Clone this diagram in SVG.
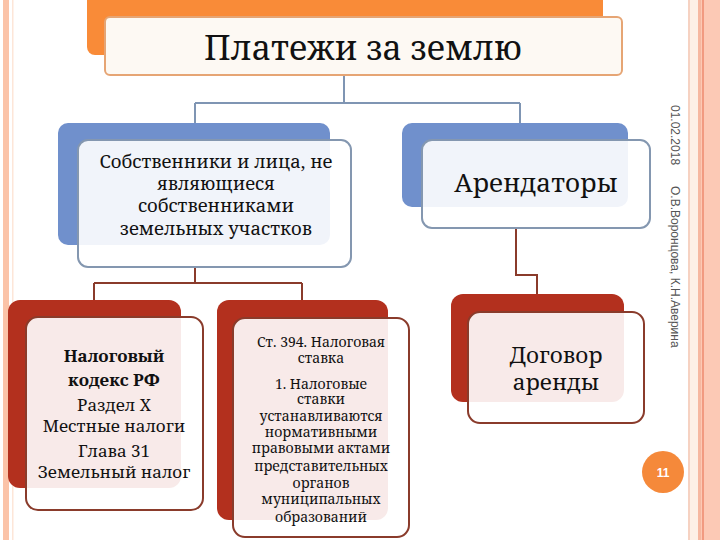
<svg xmlns="http://www.w3.org/2000/svg" width="720" height="540" viewBox="0 0 720 540">
<rect width="720" height="540" fill="#fff"/>
<rect x="3" y="0" width="6" height="540" fill="#fbc3a8"/>
<rect x="12" y="0" width="1.5" height="540" fill="#fde6d8"/>
<rect x="688" y="0" width="2" height="540" fill="#f6d2c2"/>
<rect x="690" y="0" width="8" height="540" fill="#fdf0e6"/>
<rect x="698" y="0" width="3" height="540" fill="#f6b8a0"/>
<rect x="701" y="0" width="19" height="540" fill="#fcc9b5"/>
<rect x="702" y="0" width="2" height="540" fill="#f19a80"/>

<g id="connectors" fill="none" stroke-width="2">
<path stroke="#7f95b3" d="M344 75 V103 M195 103 H520 M195 103 V124 M520 103 V124"/>
<path stroke="#8a3b2b" d="M195 267 V283 M94 283 H302 M94 283 V301 M302 283 V301"/>
<path stroke="#8a3b2b" d="M516 228 V275 H537 V294"/>
</g>

<g id="title">
<rect x="87" y="-10" width="516" height="65" rx="8" fill="#f98b38"/>
<rect x="105" y="17" width="517" height="58" rx="5" fill="#fdf9f3" stroke="#e6a574" stroke-width="2"/>
<text font-family="Noto Serif" fill="#111" text-anchor="middle" x="363" y="60" font-size="34">Платежи за землю</text>
</g>

<g id="owners">
<rect fill="#7090cc" x="58" y="123" width="272" height="122" rx="10"/>
<rect fill="#fff" fill-opacity="0.9" stroke="#8497b0" stroke-width="2" x="78" y="140" width="273" height="127" rx="10"/>
<text font-family="Noto Serif" fill="#111" text-anchor="middle" font-size="18.5"><tspan x="216" y="168">Собственники и лица, не</tspan><tspan x="216" y="190">являющиеся</tspan><tspan x="216" y="212">собственниками</tspan><tspan x="216" y="235">земельных участков</tspan></text>
</g>

<g id="tenants">
<rect fill="#7090cc" x="402" y="123" width="226" height="84" rx="10"/>
<rect fill="#fff" fill-opacity="0.9" stroke="#8497b0" stroke-width="2" x="422" y="140" width="228" height="88" rx="10"/>
<text font-family="Noto Serif" fill="#111" text-anchor="middle" x="536" y="192" font-size="26">Арендаторы</text>
</g>

<g id="taxcode">
<rect fill="#b3301e" x="8" y="300" width="173" height="188" rx="12"/>
<rect fill="#fff" fill-opacity="0.9" stroke="#8a3b2b" stroke-width="2" x="26" y="317" width="177" height="193" rx="12"/>
<text font-family="Noto Serif" fill="#111" text-anchor="middle" font-size="17"><tspan x="114" y="362" font-weight="bold">Налоговый</tspan><tspan x="114" y="386" font-weight="bold">кодекс РФ</tspan><tspan x="114" y="411">Раздел X</tspan><tspan x="114" y="432">Местные налоги</tspan><tspan x="114" y="457">Глава 31</tspan><tspan x="114" y="478">Земельный налог</tspan></text>
</g>

<g id="article">
<rect fill="#b3301e" x="217" y="300" width="171" height="220" rx="12"/>
<rect fill="#fff" fill-opacity="0.9" stroke="#8a3b2b" stroke-width="2" x="233" y="318" width="176" height="219" rx="12"/>
<text font-family="Noto Serif" fill="#111" text-anchor="middle" font-size="14"><tspan x="321" y="347">Ст. 394. Налоговая</tspan><tspan x="321" y="363">ставка</tspan><tspan x="321" y="389">1. Налоговые</tspan><tspan x="321" y="404">ставки</tspan><tspan x="321" y="421">устанавливаются</tspan><tspan x="321" y="437">нормативными</tspan><tspan x="321" y="453">правовыми актами</tspan><tspan x="321" y="471">представительных</tspan><tspan x="321" y="488">органов</tspan><tspan x="321" y="504">муниципальных</tspan><tspan x="321" y="522">образований</tspan></text>
</g>

<g id="lease">
<rect fill="#b3301e" x="451" y="294" width="173" height="108" rx="12"/>
<rect fill="#fff" fill-opacity="0.9" stroke="#8a3b2b" stroke-width="2" x="468" y="312" width="176" height="111" rx="12"/>
<text font-family="Noto Serif" fill="#111" text-anchor="middle" font-size="22.5"><tspan x="556" y="363">Договор</tspan><tspan x="556" y="390">аренды</tspan></text>
</g>

<g id="pagenum">
<circle cx="663" cy="472" r="21" fill="#f5893a"/>
<text x="663" y="476.5" font-family="Liberation Sans" font-size="12" font-weight="bold" fill="#fff" text-anchor="middle">11</text>
</g>

<g id="sidetext" font-family="Liberation Sans" font-size="12" fill="#555">
<text transform="translate(671,105) rotate(90)">01.02.2018</text>
<text transform="translate(671,186) rotate(90)">О.В.Воронцова, К.Н.Аверина</text>
</g>
</svg>
